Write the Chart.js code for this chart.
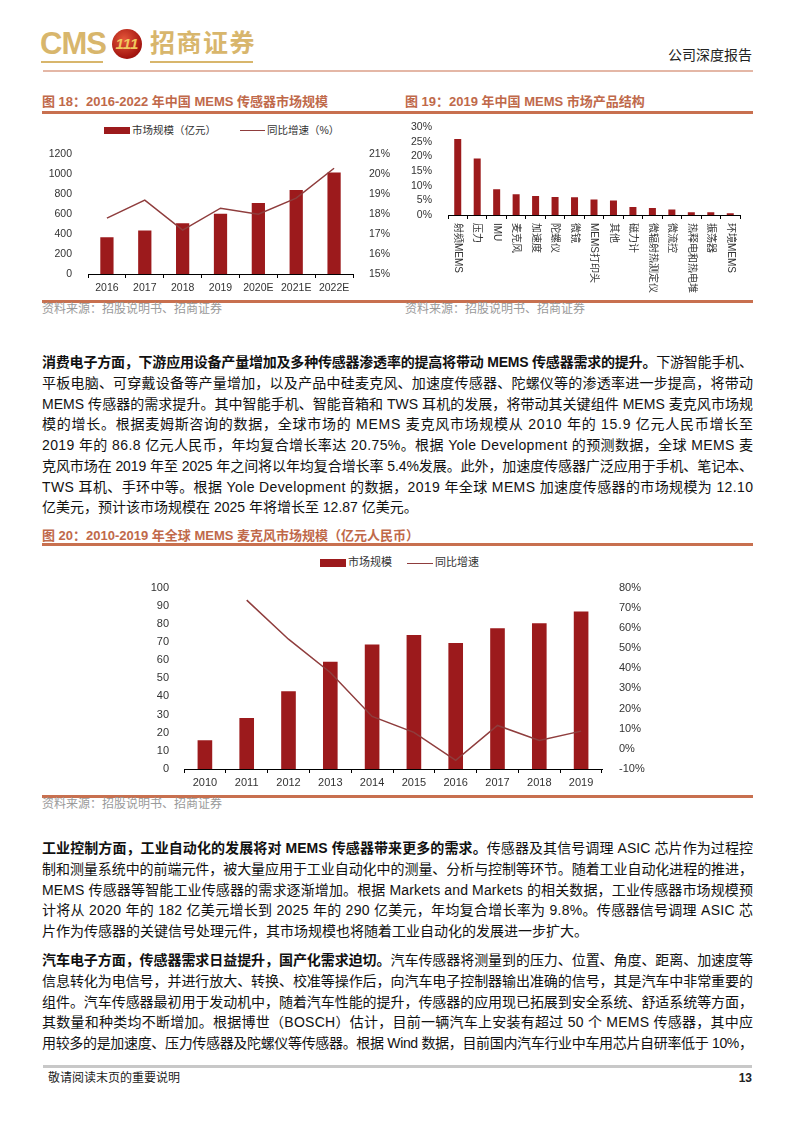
<!DOCTYPE html>
<html lang="zh-CN">
<head>
<meta charset="utf-8">
<script src="https://cdn.jsdelivr.net/npm/chart.js@4.4.0/dist/chart.umd.min.js"></script>
<style>
  body { margin:0; width:794px; height:1123px; background:#fff; position:relative; overflow:hidden;
         font-family:"Liberation Sans","Noto Sans CJK SC",sans-serif; color:#111; }
  .abs { position:absolute; }
  .gold { color:#d8b66c; }
  .figt { position:absolute; font-size:13px; line-height:16px; font-weight:bold; color:#c0694a; white-space:nowrap; }
  .rule { position:absolute; left:42px; width:711px; height:2.5px; background:#c8704f; }
  .src { position:absolute; font-size:12px; line-height:14px; color:#9a9a9a; white-space:nowrap; }
  .lg { position:absolute; white-space:nowrap; color:#333; }
  .p { position:absolute; left:42px; width:711px; font-size:14px; line-height:20.75px; }
  .p div { white-space:nowrap; }
  b { font-weight:bold; }
  canvas { position:absolute; }
</style>
</head>
<body>
<!-- en-tête -->
<div class="abs gold" style="left:40px;top:26px;font-size:31px;line-height:36px;font-weight:bold;letter-spacing:-1px;">CMS</div>
<div class="abs" style="left:41px;top:61px;width:62px;height:2px;background:#d8b66c;"></div>
<div class="abs" style="left:112px;top:29px;width:30px;height:30px;border-radius:50%;background:radial-gradient(circle at 40% 35%,#e5573a,#a3140f 70%,#7a0c08);"></div>
<div class="abs" style="left:112px;top:35px;width:30px;text-align:center;font-size:15px;line-height:18px;font-weight:bold;font-style:italic;color:#f0c75e;">111</div>
<div class="abs gold" style="left:150px;top:27px;font-size:25px;line-height:32px;font-weight:bold;letter-spacing:1.5px;">招商证券</div>
<div class="abs" style="left:150px;top:61px;width:103px;height:2px;background:#d8b66c;"></div>
<div class="abs" style="left:652px;top:46px;width:100px;text-align:right;font-size:14px;line-height:18px;color:#222;">公司深度报告</div>
<div class="abs" style="left:43px;top:70px;width:710px;height:2px;background:#e4b7a6;"></div>

<!-- figures 18 / 19 -->
<div class="figt" style="left:42px;top:94px;">图 18：2016-2022 年中国 MEMS 传感器市场规模</div>
<div class="figt" style="left:405px;top:94px;">图 19：2019 年中国 MEMS 市场产品结构</div>
<div class="rule" style="top:111px;"></div>

<div class="lg" style="left:104px;top:127px;width:26px;height:7px;background:#9c1a1c;"></div>
<div class="lg" style="left:132px;top:123px;font-size:10.5px;line-height:14px;">市场规模（亿元）</div>
<div class="lg" style="left:240px;top:129.5px;width:25px;height:1.5px;background:#8f3d3d;"></div>
<div class="lg" style="left:267px;top:123px;font-size:10.5px;line-height:14px;">同比增速（%）</div>

<canvas id="c18" width="360" height="158" style="left:36px;top:140px;"></canvas>
<canvas id="c19" width="352" height="185" style="left:404px;top:113px;"></canvas>

<div class="rule" style="top:300px;"></div>
<div class="src" style="left:42px;top:302px;">资料来源：招股说明书、招商证券</div>
<div class="src" style="left:405px;top:302px;">资料来源：招股说明书、招商证券</div>

<div class="p" style="top:352px;">
  <div class="j"><b>消费电子方面，下游应用设备产量增加及多种传感器渗透率的提高将带动 MEMS 传感器需求的提升。</b>下游智能手机、</div>
  <div class="j">平板电脑、可穿戴设备等产量增加，以及产品中硅麦克风、加速度传感器、陀螺仪等的渗透率进一步提高，将带动</div>
  <div class="j">MEMS 传感器的需求提升。其中智能手机、智能音箱和 TWS 耳机的发展，将带动其关键组件 MEMS 麦克风市场规</div>
  <div class="j">模的增长。根据麦姆斯咨询的数据，全球市场的 MEMS 麦克风市场规模从 2010 年的 15.9 亿元人民币增长至</div>
  <div class="j">2019 年的 86.8 亿元人民币，年均复合增长率达 20.75%。根据 Yole Development 的预测数据，全球 MEMS 麦</div>
  <div class="j">克风市场在 2019 年至 2025 年之间将以年均复合增长率 5.4%发展。此外，加速度传感器广泛应用于手机、笔记本、</div>
  <div class="j">TWS 耳机、手环中等。根据 Yole Development 的数据，2019 年全球 MEMS 加速度传感器的市场规模为 12.10</div>
  <div>亿美元，预计该市场规模在 2025 年将增长至 12.87 亿美元。</div>
</div>

<!-- figure 20 -->
<div class="figt" style="left:42px;top:528px;">图 20：2010-2019 年全球 MEMS 麦克风市场规模（亿元人民币）</div>
<div class="rule" style="top:543px;"></div>

<div class="lg" style="left:320px;top:559px;width:26px;height:8px;background:#9c1a1c;"></div>
<div class="lg" style="left:348px;top:555px;font-size:11px;line-height:15px;">市场规模</div>
<div class="lg" style="left:407px;top:562.5px;width:26px;height:1.5px;background:#8f3d3d;"></div>
<div class="lg" style="left:435px;top:555px;font-size:11px;line-height:15px;">同比增速</div>

<canvas id="c20" width="560" height="221" style="left:100px;top:572px;"></canvas>

<div class="rule" style="top:795px;"></div>
<div class="src" style="left:42px;top:797px;">资料来源：招股说明书、招商证券</div>

<div class="p" style="top:838px;">
  <div class="j"><b>工业控制方面，工业自动化的发展将对 MEMS 传感器带来更多的需求。</b>传感器及其信号调理 ASIC 芯片作为过程控</div>
  <div class="j">制和测量系统中的前端元件，被大量应用于工业自动化中的测量、分析与控制等环节。随着工业自动化进程的推进，</div>
  <div class="j">MEMS 传感器等智能工业传感器的需求逐渐增加。根据 Markets and Markets 的相关数据，工业传感器市场规模预</div>
  <div class="j">计将从 2020 年的 182 亿美元增长到 2025 年的 290 亿美元，年均复合增长率为 9.8%。传感器信号调理 ASIC 芯</div>
  <div>片作为传感器的关键信号处理元件，其市场规模也将随着工业自动化的发展进一步扩大。</div>
</div>

<div class="p" style="top:950px;">
  <div class="j"><b>汽车电子方面，传感器需求日益提升，国产化需求迫切。</b>汽车传感器将测量到的压力、位置、角度、距离、加速度等</div>
  <div class="j">信息转化为电信号，并进行放大、转换、校准等操作后，向汽车电子控制器输出准确的信号，其是汽车中非常重要的</div>
  <div class="j">组件。汽车传感器最初用于发动机中，随着汽车性能的提升，传感器的应用现已拓展到安全系统、舒适系统等方面，</div>
  <div class="j">其数量和种类均不断增加。根据博世（BOSCH）估计，目前一辆汽车上安装有超过 50 个 MEMS 传感器，其中应</div>
  <div class="j">用较多的是加速度、压力传感器及陀螺仪等传感器。根据 Wind 数据，目前国内汽车行业中车用芯片自研率低于 10%，</div>
</div>

<!-- pied de page -->
<div class="abs" style="left:43px;top:1065px;width:709px;height:3px;background:#c8c8c8;"></div>
<div class="abs" style="left:48px;top:1071px;font-size:12px;line-height:14px;color:#222;">敬请阅读末页的重要说明</div>
<div class="abs" style="left:700px;top:1071px;width:52px;text-align:right;font-size:12px;line-height:14px;font-weight:bold;color:#222;">13</div>

<script>
// Données
const years18 = ['2016', '2017', '2018', '2019', '2020E', '2021E', '2022E'];
const size18 = [368, 437, 510, 603, 713, 843, 1017];
const growth18 = [17.8, 18.7, 17.2, 18.3, 18.0, 18.8, 20.3];

const products19 = ['射频MEMS', '压力', 'IMU', '麦克风', '加速度', '陀螺仪', '微镜', 'MEMS打印头', '其他',
  '磁力计', '微辐射热测定仪', '微流控', '热释电和热电堆', '振荡器', '环境MEMS'];
const share19 = [26.0, 19.3, 8.8, 7.1, 6.5, 6.2, 6.1, 5.3, 5.0, 2.7, 2.4, 1.9, 0.9, 0.9, 0.6];

const years20 = ['2010', '2011', '2012', '2013', '2014', '2015', '2016', '2017', '2018', '2019'];
const size20 = [15.9, 28.1, 42.9, 59.1, 68.6, 73.9, 69.5, 77.6, 80.4, 86.8];
const growth20 = [null, 73.8, 54.4, 37.9, 16.1, 8.2, -5.7, 11.6, 4.2, 8.8];

const RED = '#9c1a1c';
const LINE = '#8f3d3d';
const FONT = '"Liberation Sans", "Noto Sans CJK SC", sans-serif';

// justification des lignes du texte
document.querySelectorAll('.p .j').forEach(el => {
  const r = document.createRange();
  r.selectNodeContents(el);
  const w = r.getBoundingClientRect().width;
  const n = el.textContent.length;
  el.style.letterSpacing = ((711 - w) / (n - 1)) + 'px';
});

function xAxis(h, pad, size) {
  return {
    grid: { display: true, drawOnChartArea: false, drawTicks: true, tickLength: 4, color: '#000', offset: true },
    border: { display: true, color: '#000', width: 1 },
    ticks: { font: { family: FONT, size: size }, color: '#333', padding: pad, maxRotation: 0, autoSkip: false },
    afterFit: s => { s.height = h; }
  };
}
function yAxis(pos, min, max, step, w, pad, size, pct) {
  return {
    position: pos, min: min, max: max,
    grid: { display: false }, border: { display: false },
    ticks: { stepSize: step, padding: pad, autoSkip: false, font: { family: FONT, size: size }, color: '#333',
             callback: v => pct ? v + '%' : v },
    afterFit: s => { s.width = w; }
  };
}
const common = { responsive: false, animation: false, plugins: { legend: { display: false }, tooltip: { enabled: false } } };

new Chart(document.getElementById('c18'), {
  type: 'bar',
  data: {
    labels: years18,
    datasets: [
      { type: 'line', data: growth18, yAxisID: 'y1', borderColor: LINE, borderWidth: 1.5, pointRadius: 0, tension: 0, order: 0 },
      { data: size18, yAxisID: 'y', backgroundColor: RED, barPercentage: 0.35, categoryPercentage: 1, order: 1 }
    ]
  },
  options: Object.assign({}, common, {
    layout: { padding: { top: 14 } },
    scales: {
      x: xAxis(24, 4, 10.5),
      y: yAxis('left', 0, 1200, 200, 52, 8, 10.5, false),
      y1: yAxis('right', 15, 21, 1, 43, 8, 10.5, true)
    }
  })
});

// étiquettes verticales (lecture de haut en bas)
const verticalLabels = {
  id: 'verticalLabels',
  afterDraw(chart) {
    const { ctx, chartArea, scales } = chart;
    ctx.save();
    ctx.font = '10px ' + FONT;
    ctx.fillStyle = '#333';
    ctx.textAlign = 'left';
    ctx.textBaseline = 'middle';
    chart.data.labels.forEach((lab, i) => {
      const px = scales.x.getPixelForValue(i);
      ctx.save();
      ctx.translate(px, chartArea.bottom + 8);
      ctx.rotate(Math.PI / 2);
      ctx.fillText(lab, 0, 0);
      ctx.restore();
    });
    ctx.restore();
  }
};

const x19 = xAxis(83, 4, 10);
x19.ticks.display = false;
new Chart(document.getElementById('c19'), {
  type: 'bar',
  data: {
    labels: products19,
    datasets: [{ data: share19, backgroundColor: RED, barPercentage: 0.36, categoryPercentage: 1 }]
  },
  options: Object.assign({}, common, {
    layout: { padding: { top: 0, right: 16 } },
    scales: {
      x: x19,
      y: yAxis('left', 0, 30, 5, 44, 8, 10.5, true)
    }
  }),
  plugins: [verticalLabels]
});

new Chart(document.getElementById('c20'), {
  type: 'bar',
  data: {
    labels: years20,
    datasets: [
      { type: 'line', data: growth20, yAxisID: 'y1', borderColor: LINE, borderWidth: 1.5, pointRadius: 0, tension: 0, order: 0 },
      { data: size20, yAxisID: 'y', backgroundColor: RED, barPercentage: 0.35, categoryPercentage: 1, order: 1 }
    ]
  },
  options: Object.assign({}, common, {
    layout: { padding: { top: 0 } },
    scales: {
      x: xAxis(24, 3, 11),
      y: yAxis('left', 0, 100, 10, 84, 7, 11, false),
      y1: yAxis('right', -10, 80, 10, 58, 9, 11, true)
    }
  })
});
</script>
</body>
</html>
